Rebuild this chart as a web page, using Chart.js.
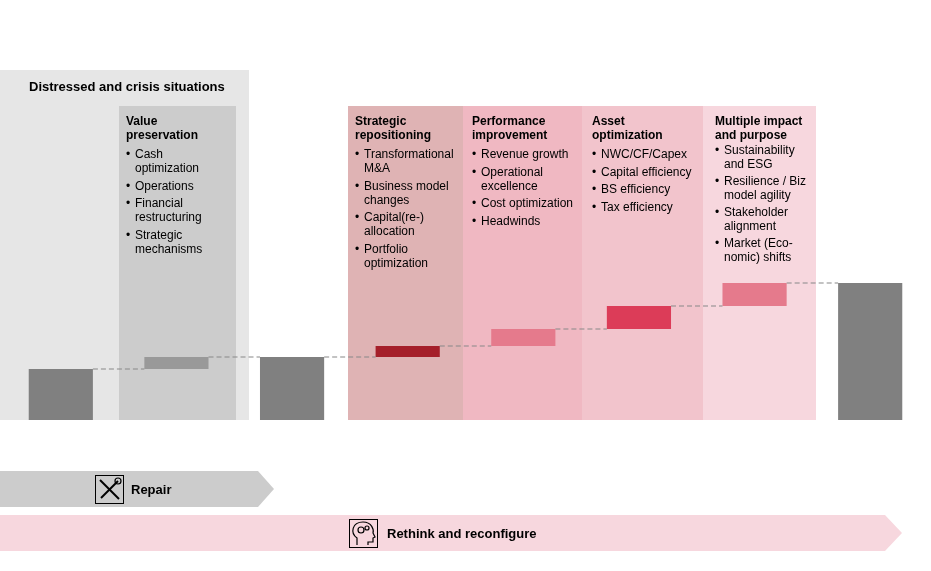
<!DOCTYPE html>
<html>
<head>
<meta charset="utf-8">
<script src="https://cdn.jsdelivr.net/npm/chart.js@4"></script>
<style>body{margin:0;background:#fff}canvas{display:block}</style>
</head>
<body>
<canvas id="c" width="931" height="571"></canvas>
<script>
// waterfall values (floating bars: [start, end])
const steps = ["Start", "Value preservation", "Repaired", "Strategic repositioning",
  "Performance improvement", "Asset optimization", "Multiple impact", "End"];
const lows = [0, 12.75, 0, 15.75, 18.5, 22.75, 28.5, 0];
const highs = [12.75, 15.75, 15.75, 18.5, 22.75, 28.5, 34.25, 34.25];
const barColors = ["#808080", "#999999", "#808080", "#a51f2a", "#e57a8c", "#dc3c58", "#e57a8c", "#808080"];

const panels = [
  { x0: 119, x1: 236, y0: 106, color: "#cccccc", x: 126, head: ["Value", "preservation"],
    items: [["Cash", "optimization"], ["Operations"], ["Financial", "restructuring"], ["Strategic", "mechanisms"]] },
  { x0: 348, x1: 463, y0: 106, color: "#dfb3b4", x: 355, head: ["Strategic", "repositioning"],
    items: [["Transformational", "M&A"], ["Business model", "changes"], ["Capital(re-)", "allocation"], ["Portfolio", "optimization"]] },
  { x0: 463, x1: 582, y0: 106, color: "#f0b8c2", x: 472, head: ["Performance", "improvement"],
    items: [["Revenue growth"], ["Operational", "excellence"], ["Cost optimization"], ["Headwinds"]] },
  { x0: 582, x1: 703, y0: 106, color: "#f2c4cc", x: 592, head: ["Asset", "optimization"],
    items: [["NWC/CF/Capex"], ["Capital efficiency"], ["BS efficiency"], ["Tax efficiency"]] },
  { x0: 703, x1: 816, y0: 106, color: "#f7d7de", x: 715, head: ["Multiple impact", "and purpose"],
    items: [["Sustainability", "and ESG"], ["Resilience / Biz", "model agility"], ["Stakeholder", "alignment"], ["Market (Eco-", "nomic) shifts"]], top: 151, lh: 13.5, gap: 17.5 },
];

const F = "'Liberation Sans', Arial, sans-serif";

const background = {
  id: "background",
  beforeDatasetsDraw(chart) {
    const ctx = chart.ctx;
    const base = chart.scales.y.getPixelForValue(0);
    ctx.save();
    ctx.fillStyle = "#e6e6e6";
    ctx.fillRect(0, 70, 249, base - 70);
    panels.forEach(p => {
      ctx.fillStyle = p.color;
      ctx.fillRect(p.x0, p.y0, p.x1 - p.x0, base - p.y0);
    });
    ctx.fillStyle = "#000";
    ctx.textBaseline = "middle";
    ctx.font = "bold 13px " + F;
    ctx.fillText("Distressed and crisis situations", 29, 87);
    panels.forEach(p => {
      ctx.font = "bold 12px " + F;
      ctx.fillText(p.head[0], p.x, 122);
      ctx.fillText(p.head[1], p.x, p.top ? 135.5 : 136);
      ctx.font = "12px " + F;
      let y = p.top || 155;
      const lh = p.lh || 14, gap = p.gap || 17.5;
      p.items.forEach(it => {
        ctx.fillText("•", p.x, y);
        it.forEach((l, i) => ctx.fillText(l, p.x + 9, y + i * lh));
        y += (it.length - 1) * lh + gap;
      });
    });
    ctx.restore();
  },
  afterDatasetsDraw(chart) {
    const ctx = chart.ctx;
    const meta = chart.getDatasetMeta(0);
    const y = chart.scales.y;
    ctx.save();
    ctx.strokeStyle = "#888";
    ctx.lineWidth = 1.2;
    ctx.setLineDash([5, 3]);
    for (let i = 0; i < highs.length - 1; i++) {
      const a = meta.data[i], b = meta.data[i + 1];
      const py = y.getPixelForValue(highs[i]);
      ctx.beginPath();
      ctx.moveTo(a.x + a.width / 2, py);
      ctx.lineTo(b.x - b.width / 2, py);
      ctx.stroke();
    }
    ctx.setLineDash([]);
    // arrows
    const band = (x1, tip, y0, h, color) => {
      ctx.fillStyle = color;
      ctx.beginPath();
      ctx.moveTo(0, y0); ctx.lineTo(x1, y0); ctx.lineTo(tip, y0 + h / 2);
      ctx.lineTo(x1, y0 + h); ctx.lineTo(0, y0 + h); ctx.closePath(); ctx.fill();
    };
    band(258, 274, 471, 36, "#cccccc");
    band(885, 902, 515, 36, "#f7d7de");
    ctx.strokeStyle = "#000"; ctx.lineWidth = 1;
    ctx.strokeRect(95.5, 475.5, 28, 28);
    ctx.strokeRect(349.5, 519.5, 28, 28);
    // tools icon
    ctx.lineWidth = 2;
    ctx.beginPath(); ctx.moveTo(100, 480); ctx.lineTo(119, 499); ctx.stroke();
    ctx.beginPath(); ctx.moveTo(118, 481); ctx.lineTo(101, 498); ctx.stroke();
    ctx.lineWidth = 1.2;
    ctx.beginPath(); ctx.arc(118, 481, 3, 0, Math.PI * 2); ctx.stroke();
    // head icon
    ctx.beginPath();
    ctx.moveTo(357, 545); ctx.lineTo(357, 538);
    ctx.bezierCurveTo(350, 533, 352, 522, 363, 522);
    ctx.bezierCurveTo(372, 522, 374, 530, 373, 533);
    ctx.lineTo(375, 537); ctx.lineTo(373, 538); ctx.lineTo(373, 542);
    ctx.lineTo(368, 542); ctx.lineTo(368, 545); ctx.stroke();
    ctx.beginPath(); ctx.arc(361, 530, 3, 0, Math.PI * 2); ctx.stroke();
    ctx.beginPath(); ctx.arc(367, 528, 2, 0, Math.PI * 2); ctx.stroke();
    ctx.fillStyle = "#000";
    ctx.textBaseline = "middle";
    ctx.font = "bold 13px " + F;
    ctx.fillText("Repair", 131, 490);
    ctx.fillText("Rethink and reconfigure", 387, 534);
    ctx.restore();
  }
};

new Chart("c", {
  type: "bar",
  data: {
    labels: steps,
    datasets: [{
      data: lows.map((l, i) => [l, highs[i]]),
      backgroundColor: barColors,
      categoryPercentage: 1,
      barPercentage: 0.555,
    }],
  },
  options: {
    responsive: false,
    animation: false,
    layout: { padding: { left: 3, right: 3, top: 20, bottom: 151 } },
    plugins: { legend: { display: false }, tooltip: { enabled: false } },
    scales: {
      x: { display: false },
      y: { display: false, min: 0, max: 100 },
    },
  },
  plugins: [background],
});
</script>
</body>
</html>
